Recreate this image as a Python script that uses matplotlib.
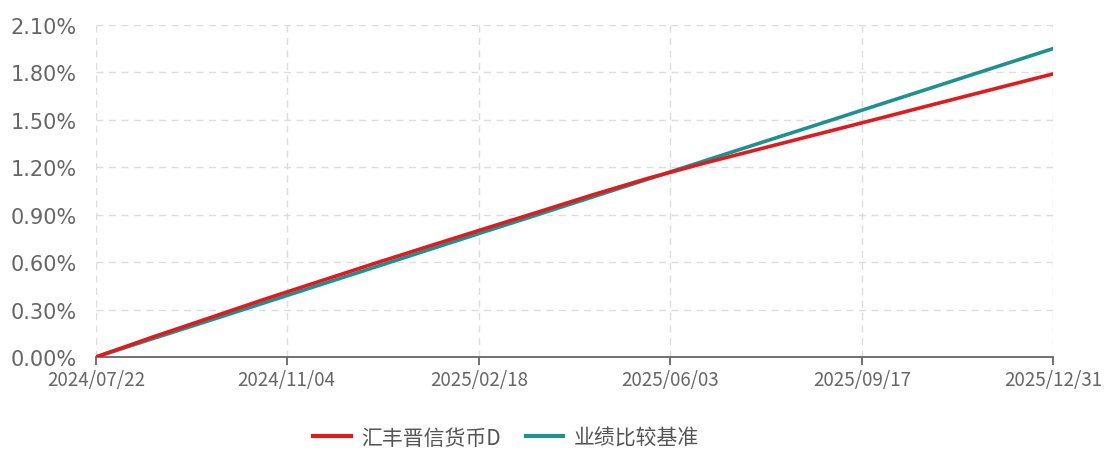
import numpy as np
import pandas as pd
import matplotlib
matplotlib.use('Agg')
import matplotlib.pyplot as plt
import matplotlib.dates as mdates
from matplotlib.ticker import FuncFormatter

# 数据 (累计收益率, %)
dates = pd.to_datetime(['2024-07-22', '2024-08-22', '2024-09-22', '2024-10-22', '2024-11-22',
                        '2024-12-22', '2025-01-22', '2025-02-22', '2025-03-22', '2025-04-22',
                        '2025-05-22', '2025-06-22', '2025-07-22', '2025-08-22', '2025-09-22',
                        '2025-10-22', '2025-11-22', '2025-12-22', '2025-12-31'])
fund = [0.000, 0.125, 0.245, 0.362, 0.478, 0.590, 0.703, 0.815, 0.915, 1.027,
        1.130, 1.226, 1.314, 1.405, 1.496, 1.585, 1.676, 1.764, 1.790]
bench = [0.000, 0.115, 0.229, 0.340, 0.455, 0.566, 0.681, 0.796, 0.899, 1.014,
         1.125, 1.240, 1.351, 1.465, 1.580, 1.691, 1.806, 1.917, 1.950]
tick_dates = pd.to_datetime(['2024-07-22', '2024-11-04', '2025-02-18',
                             '2025-06-03', '2025-09-17', '2025-12-31'])
y_ticks = [0.0, 0.3, 0.6, 0.9, 1.2, 1.5, 1.8, 2.1]
labels = ['汇丰晋信货币D', '业绩比较基准']

plt.rcParams['font.family'] = ['DejaVu Sans']
cjk = ['Noto Sans CJK SC', 'DejaVu Sans']

fig = plt.figure(figsize=(11.1, 4.56), dpi=100)
ax = fig.add_axes([0.0865, 0.215, 0.862, 0.728])

ax.plot(dates, fund, color='#dc1c1f', lw=2.6, label=labels[0], zorder=3)
ax.plot(dates, bench, color='#1f9090', lw=2.6, label=labels[1], zorder=2)

ax.set_xlim(tick_dates[0], tick_dates[-1])
ax.set_ylim(0, 2.1)
ax.set_xticks(tick_dates)
ax.xaxis.set_major_formatter(mdates.DateFormatter('%Y/%m/%d'))
ax.set_yticks(y_ticks)
ax.yaxis.set_major_formatter(FuncFormatter(lambda v, p: f'{v:.2f}%'))

for s in ['top', 'right', 'left']:
    ax.spines[s].set_visible(False)
ax.spines['bottom'].set_color('#666666')
ax.spines['bottom'].set_linewidth(1.3)
ax.tick_params(axis='x', colors='#666666', length=6, width=1.3, pad=3)
ax.tick_params(axis='y', length=0, pad=14, labelsize=15, labelcolor='#666666')
for lab in ax.get_xticklabels():
    lab.set_fontfamily(cjk)
    lab.set_fontsize(13.5)
    lab.set_color('#666666')
ax.grid(True, color='#dddddd', linestyle=(0, (5, 4)), linewidth=1)
ax.set_axisbelow(True)

leg = fig.legend(loc='center', bbox_to_anchor=(0.456, 0.038), ncol=2, frameon=False,
                 prop={'family': cjk, 'size': 15}, handlelength=1.8, columnspacing=1.2,
                 handletextpad=0.5)
for t in leg.get_texts():
    t.set_color('#555555')
for h in leg.legend_handles:
    h.set_linewidth(3)

fig.savefig('out.png', dpi=100)
